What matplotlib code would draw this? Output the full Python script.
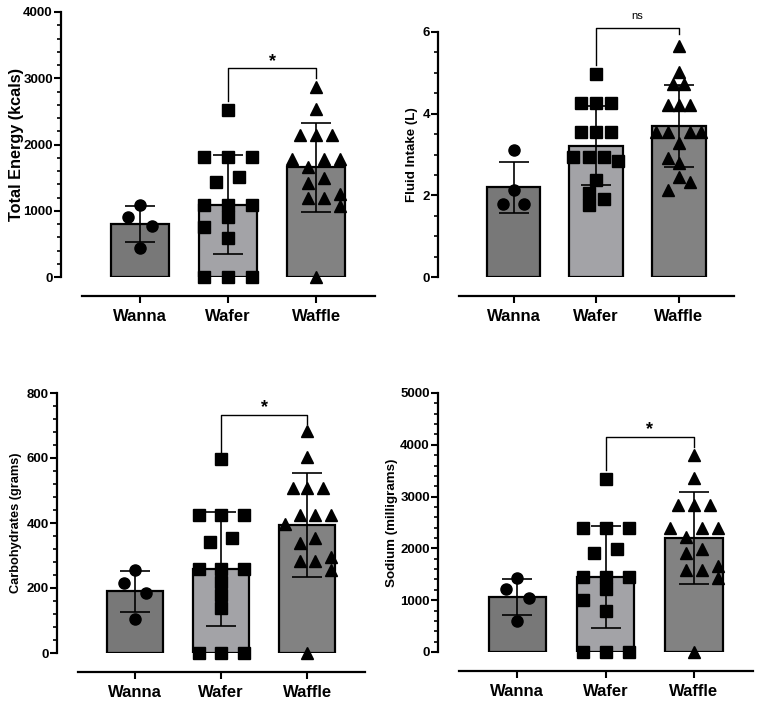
import numpy as np
import matplotlib
matplotlib.use("Agg")
import matplotlib.pyplot as plt
from matplotlib.ticker import MultipleLocator

plt.rcParams['font.family'] = ['Liberation Sans', 'DejaVu Sans']

# ---------- data ----------
groups = ["Wanna", "Wafer", "Waffle"]
bar_colors = ["#787878", "#a3a3a7", "#828282"]
markers = ["o", "s", "^"]

energy_wanna = [1088, 902, 775, 443]
energy_wafer = [2523, 1808, 1808, 1808, 1440, 1506, 1088, 1088, 1088, 911, 751, 594, 0, 0, 0]
energy_waffle = [2875, 2533, 2145, 2145, 2145, 1778, 1778, 1778, 1666, 1424, 1491,
                 1189, 1189, 1254, 1073, 0]

fluid_wanna = [3.10, 2.13, 1.78, 1.78]
fluid_wafer = [4.98, 4.26, 4.26, 4.26, 3.56, 3.56, 3.56, 2.95, 2.95, 2.95, 2.83,
               2.38, 2.06, 1.90, 1.76]
fluid_waffle = [5.65, 5.02, 4.73, 4.73, 4.22, 4.22, 4.22, 3.54, 3.54, 3.54, 3.54,
                3.29, 2.92, 2.80, 2.46, 2.33, 2.13]

carbs_wanna = [255, 214, 185, 105]
carbs_wafer = [597, 425, 425, 425, 343, 355, 257, 257, 257, 218, 178, 138, 0, 0, 0]
carbs_waffle = [682, 602, 509, 509, 509, 425, 425, 425, 396, 340, 353, 283, 283, 296, 255, 0]

sodium_wanna = [1420, 1207, 1033, 600]
sodium_wafer = [3335, 2387, 2387, 2387, 1915, 1986, 1439, 1439, 1439, 1207, 1000, 793, 0, 0, 0]
sodium_waffle = [3805, 3354, 2838, 2838, 2838, 2387, 2387, 2387, 2225, 1903, 1987,
                 1580, 1580, 1663, 1420, 0]

# horizontal scatter of the dots (fraction of category spacing)
energy_dx = [
    [0, -0.14, 0.14, 0],
    [0, -0.27, 0, 0.27, -0.14, 0.13, -0.27, 0, 0.27, 0, -0.27, 0, -0.27, 0, 0.27],
    [0, 0, -0.18, 0, 0.18, -0.27, 0.09, 0.27, -0.09, -0.09, 0.09, -0.09, 0.09, 0.27, 0.27, 0],
]
fluid_dx = [
    [0, 0, -0.13, 0.13],
    [0, -0.18, 0, 0.18, -0.18, 0, 0.18, -0.275, -0.09, 0.09, 0.27, 0, -0.09, 0.09, -0.09],
    [0, 0, -0.068, 0.068, -0.133, 0, 0.133, -0.27, -0.133, 0.133, 0.27, 0, -0.133, 0, 0, 0.133, -0.133],
]
carbs_dx = [
    [0, -0.13, 0.13, 0],
    [0, -0.26, 0, 0.27, -0.13, 0.13, -0.26, 0, 0.27, 0, 0, 0, -0.26, 0, 0.27],
    [0, 0, -0.17, 0, 0.18, -0.08, 0.09, 0.27, -0.26, -0.08, 0.09, -0.08, 0.09, 0.27, 0.27, 0],
]
sodium_dx = [
    [0, -0.13, 0.13, 0],
    [0, -0.26, 0, 0.26, -0.13, 0.13, -0.26, 0, 0.26, 0, -0.26, 0, -0.26, 0, 0.26],
    [0, 0, -0.18, 0, 0.18, -0.27, 0.09, 0.27, -0.09, -0.09, 0.09, -0.09, 0.09, 0.27, 0.27, 0],
]

W, H = 762, 705


def make_axes(fig, left, right, top, bottom):
    # pixel box (image coords, y down) -> figure fraction
    return fig.add_axes([left / W, (H - bottom) / H, (right - left) / W, (bottom - top) / H])


def panel(ax, data, dxs, ymax, major, minor, ylabel, label_size, labelpad,
          bracket, sig, sig_style):
    x = np.arange(3)
    means = [np.mean(d) for d in data]
    sds = [np.std(d, ddof=1) for d in data]

    ax.bar(x, means, width=0.65, color=bar_colors, edgecolor="black", linewidth=1.6, zorder=1)
    ax.errorbar(x, means, yerr=sds, fmt="none", ecolor="black", elinewidth=1.2,
                capsize=11, capthick=1.2, zorder=2)
    for i, (d, dx) in enumerate(zip(data, dxs)):
        ax.plot(i + np.array(dx), d, linestyle="none", marker=markers[i],
                markersize=8, color="black", clip_on=False, zorder=3)

    ax.set_xlim(-0.66, 2.67)
    ax.set_ylim(0, ymax)
    for s in ["top", "right"]:
        ax.spines[s].set_visible(False)
    ax.spines["left"].set_position(("outward", 15))
    ax.spines["bottom"].set_position(("outward", 14))
    ax.spines["left"].set_linewidth(1.6)
    ax.spines["bottom"].set_linewidth(1.6)
    ax.yaxis.set_major_locator(MultipleLocator(major))
    ax.yaxis.set_minor_locator(MultipleLocator(minor))
    ax.tick_params(axis="y", which="major", length=5, width=1.5, labelsize=9.5, pad=1)
    ax.tick_params(axis="y", which="minor", length=3, width=1.2)
    ax.tick_params(axis="x", length=5, width=1.5, labelsize=12, pad=4)
    ax.set_xticks(x)
    ax.set_xticklabels(groups, fontweight="bold")
    for lab in ax.get_yticklabels():
        lab.set_fontweight("bold")
    ax.set_ylabel(ylabel, fontsize=label_size, fontweight="bold", labelpad=labelpad)

    yl, yt, yr, ys = bracket
    ax.plot([1, 1, 2, 2], [yl, yt, yt, yr], color="black", linewidth=1, clip_on=False)
    if sig_style == "bold":
        ax.text(1.5, ys, sig, ha="center", va="center", fontsize=13, fontweight="bold")
    else:
        ax.text(1.5, ys, sig, ha="center", va="center", fontsize=8)


fig = plt.figure(figsize=(W / 100, H / 100), dpi=100)

ax1 = make_axes(fig, 82, 375, 12, 277)
panel(ax1, [energy_wanna, energy_wafer, energy_waffle], energy_dx, 4000, 1000, 200,
      "Total Energy (kcals)", 11.7, -0.5, (2650, 3150, 3010, 3250), "*", "bold")

ax2 = make_axes(fig, 459, 734, 32, 277)
panel(ax2, [fluid_wanna, fluid_wafer, fluid_waffle], fluid_dx, 6, 2, 0.5,
      "Fluid Intake (L)", 9.6, 3, (5.2, 6.1, 5.94, 6.39), "ns", "plain")

ax3 = make_axes(fig, 78, 365, 393, 653)
panel(ax3, [carbs_wanna, carbs_wafer, carbs_waffle], carbs_dx, 800, 200, 40,
      "Carbohydrates (grams)", 9.2, 3, (620, 733, 706, 755), "*", "bold")

ax4 = make_axes(fig, 459, 753, 393, 652)
panel(ax4, [sodium_wanna, sodium_wafer, sodium_waffle], sodium_dx, 5000, 1000, 200,
      "Sodium (milligrams)", 9.6, 1.5, (3514, 4147, 3965, 4300), "*", "bold")

fig.savefig("out.png", dpi=100)
